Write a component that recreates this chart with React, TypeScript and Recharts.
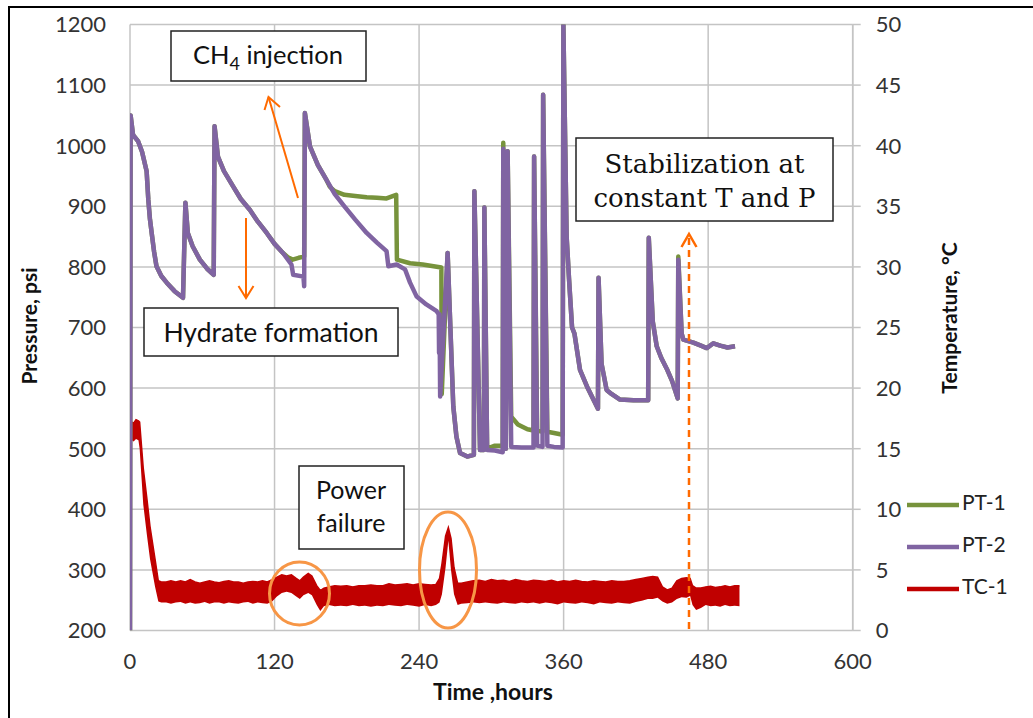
// Pressure (PT-1, PT-2) and temperature (TC-1) history of the hydrate formation run
import React from 'react'
import { ComposedChart, Line, Area, XAxis, YAxis, CartesianGrid } from 'recharts'

const HOUR_TICKS = [0, 120, 240, 360, 480, 600]
const PSI_TICKS = [200, 300, 400, 500, 600, 700, 800, 900, 1000, 1100, 1200]
const TEMP_TICKS = [0, 5, 10, 15, 20, 25, 30, 35, 40, 45, 50]

// [hours, psi]
const PT2_POINTS: [number, number][] = [
  [0, 200], [0.5, 1050], [2.5, 1018], [6.8, 1007], [10, 990], [13.8, 958], [15.2, 911], [16.5, 880],
  [18, 856], [20, 825], [22, 801], [26, 785], [30.5, 774], [37, 760], [44, 749], [46, 906], [48, 856],
  [52, 834], [58, 812], [64, 797], [69.5, 787], [70.2, 1032], [73, 982], [78, 958], [85.6, 933],
  [92, 912], [99.6, 894], [106, 875], [113.5, 856], [120, 838], [127, 823], [134, 804], [135.5, 787],
  [144, 784], [144.6, 768], [145.2, 1054], [149.4, 999], [156, 968], [163, 944], [170, 920], [178, 900],
  [187, 878], [196.5, 856], [205, 840], [213, 826], [214.5, 801], [221.4, 804], [228.3, 796],
  [232.5, 774], [238, 751], [246, 738], [254.6, 727], [256.3, 722], [256.6, 658], [257, 722],
  [257.5, 586], [263.7, 823], [268.4, 570], [271, 520], [274, 493], [280, 487], [285.5, 490],
  [285.9, 925], [290.6, 498], [293.8, 498], [294.2, 898], [296.5, 498], [303, 497], [309.4, 494],
  [309.9, 995], [312, 500], [313.5, 991], [316.5, 503], [325, 502], [335, 502], [335.5, 982],
  [338, 505], [342.5, 503], [343, 1084], [346.5, 505], [352, 503], [359.2, 502], [359.8, 1200],
  [362.5, 850], [364.5, 780], [367, 700], [369, 690], [373.6, 630], [380, 600], [388.5, 566],
  [389, 782], [391.5, 640], [395.7, 597], [400, 590], [406.8, 581], [418, 580], [430.2, 580],
  [430.7, 848], [434, 710], [437.3, 669], [441, 650], [445.6, 632], [450, 612], [454.7, 583],
  [455.2, 812], [458, 690], [459.4, 680], [467.7, 675], [474, 670], [478.8, 666], [484.3, 674],
  [490, 670], [496, 667], [502.3, 669],
]

const PT1_POINTS: [number, number][] = [
  [0, 200], [0.5, 1050], [2.5, 1018], [6.8, 1007], [10, 990], [13.8, 958], [15.2, 911], [16.5, 880],
  [18, 856], [20, 825], [22, 801], [26, 785], [30.5, 774], [37, 760], [44, 749], [46, 906], [48, 856],
  [52, 834], [58, 812], [64, 797], [69.5, 787], [70.2, 1032], [73, 982], [78, 958], [85.6, 933],
  [92, 912], [99.6, 894], [106, 875], [113.5, 856], [120, 838], [127, 823], [131, 816], [135, 812],
  [140, 815], [144.6, 817], [145.2, 1054], [149.4, 999], [156, 968], [163, 944], [166, 932],
  [170, 925], [178, 919], [187, 917], [196.5, 915], [205, 914], [213, 913], [221, 919], [221.6, 812],
  [232.5, 806], [243, 804], [258.5, 799], [258.8, 590], [263.7, 823], [268.4, 570], [271, 520],
  [274, 493], [280, 487], [285.5, 490], [285.9, 925], [290.6, 498], [293.8, 498], [294.2, 898],
  [296.5, 500], [303, 505], [309.4, 505], [309.9, 1005], [312, 500], [313.5, 991], [316.5, 553],
  [322, 540], [330, 532], [335, 530], [335.5, 982], [338, 530], [342.5, 528], [343, 1084],
  [346.5, 528], [352, 526], [359.2, 523], [359.8, 1200], [362.5, 850], [364.5, 780], [367, 700],
  [369, 690], [373.6, 630], [380, 600], [388.5, 566], [389, 782], [391.5, 640], [395.7, 597],
  [400, 590], [406.8, 581], [418, 580], [430.2, 580], [430.7, 848], [434, 710], [437.3, 669],
  [441, 650], [445.6, 632], [450, 612], [454.7, 583], [455.2, 817], [458, 690], [459.4, 680],
  [467.7, 675], [474, 670], [478.8, 666], [484.3, 674], [490, 670], [496, 667], [502.3, 669],
]

// [hours, lower edge °C, upper edge °C] of the noisy thermocouple trace
const TC1_POINTS: [number, number, number][] = [
  [0, 15.8, 17.3], [3, 15.6, 17.1], [5, 15.8, 17.4], [7, 15.7, 17.3], [8, 15.0, 17.2], [11, 10.4, 13.4],
  [14, 7.9, 10.9], [16.6, 5.9, 8.6], [20.8, 3.6, 5.9], [23.5, 2.4, 4.1], [26, 2.3, 4.0], [30, 2.3, 4.0],
  [34, 2.2, 4.1], [38, 2.3, 4.0], [42, 2.35, 4.1], [46, 2.2, 4.0], [50, 2.3, 4.2], [54, 2.2, 4.0],
  [58, 2.25, 3.9], [62, 2.35, 4.0], [66, 2.2, 4.1], [70, 2.3, 4.0], [74, 2.3, 3.95], [78, 2.2, 4.05],
  [82, 2.3, 4.1], [86, 2.25, 4.0], [90, 2.2, 4.0], [94, 2.3, 3.9], [98, 2.35, 4.0], [102, 2.2, 4.05],
  [106, 2.3, 4.0], [110, 2.25, 4.1], [114, 2.2, 4.0], [118, 2.4, 4.2], [122, 2.8, 4.4], [126, 3.1, 4.6],
  [130, 3.2, 4.5], [134, 3.1, 4.6], [138, 2.8, 4.3], [141, 2.6, 4.1], [144, 2.9, 4.4], [148, 3.1, 4.7],
  [151, 2.9, 4.5], [155, 2.1, 3.7], [158, 1.6, 3.3], [161, 2.0, 3.5], [165, 2.1, 3.6], [170, 2.0, 3.7],
  [175, 2.05, 3.65], [180, 2.0, 3.7], [185, 2.1, 3.6], [190, 2.0, 3.7], [195, 2.05, 3.7], [200, 1.95, 3.75],
  [205, 2.05, 3.7], [210, 2.0, 3.7], [215, 2.1, 3.85], [220, 2.05, 3.75], [225, 2.0, 3.8], [230, 2.1, 3.85],
  [235, 2.05, 3.75], [240, 1.95, 3.85], [245, 2.1, 3.8], [250, 2.0, 3.75], [254, 2.1, 3.8], [257, 2.3, 4.3],
  [259, 3.0, 5.5], [262, 5.2, 7.8], [264.3, 7.4, 8.5], [266.5, 5.0, 7.6], [269, 3.0, 5.2],
  [272, 2.1, 3.9], [275, 2.2, 3.9], [280, 2.25, 4.0], [285, 2.3, 4.1], [290, 2.25, 4.15], [295, 2.3, 4.05],
  [300, 2.25, 4.2], [305, 2.2, 4.1], [310, 2.3, 4.15], [315, 2.25, 4.05], [320, 2.2, 4.2], [325, 2.3, 4.1],
  [330, 2.25, 4.05], [335, 2.3, 4.15], [340, 2.2, 4.1], [345, 2.3, 4.05], [350, 2.25, 4.15], [355, 2.15, 4.0],
  [360, 2.3, 4.1], [365, 2.25, 4.05], [370, 2.2, 4.15], [375, 2.3, 4.05], [380, 2.25, 4.0], [385, 2.15, 4.1],
  [390, 2.3, 4.05], [395, 2.25, 4.0], [400, 2.2, 4.1], [405, 2.3, 4.05], [410, 2.25, 4.05], [415, 2.2, 4.1],
  [420, 2.35, 4.2], [425, 2.45, 4.3], [430, 2.6, 4.4], [434, 2.6, 4.45], [438, 2.7, 4.4], [442, 2.4, 3.6],
  [446, 2.2, 3.35], [450, 2.3, 3.5], [454, 2.6, 4.1], [458, 2.75, 4.3], [462, 2.7, 4.35], [465, 2.85, 4.3],
  [467, 2.1, 3.7], [470, 1.7, 3.5], [474, 1.85, 3.5], [478, 2.1, 3.6], [482, 2.0, 3.65], [486, 2.05, 3.55],
  [490, 1.95, 3.6], [494, 2.1, 3.7], [498, 2.0, 3.6], [502, 2.05, 3.7], [506, 2.0, 3.7],
]

const SERIES = [
  { name: 'PT-1', color: '#77933C' },
  { name: 'PT-2', color: '#8064A2' },
  { name: 'TC-1', color: '#C00000' },
]

const pt1Data = PT1_POINTS.map(([t, p]) => ({ t, p }))
const pt2Data = PT2_POINTS.map(([t, p]) => ({ t, p }))
// band drawn as two stacked areas: invisible base up to the lower edge, red span up to the upper edge
const tcData = TC1_POINTS.map(([t, lo, hi]) => ({ t, lo, span: hi - lo }))

const SANS = 'Lato, "Open Sans", sans-serif'
const SERIF = '"DejaVu Serif", serif'
const ORANGE = '#FF6A00'
const tickStyle = { fill: '#333', fontSize: 22, fontFamily: SANS }

function Annotations() {
  return (
    <svg width={1033} height={718} style={{ position: 'absolute', left: 0, top: 0, pointerEvents: 'none' }}>
      {/* outer frame */}
      <rect x={9} y={7} width={1100} height={800} fill="none" stroke="#000" strokeWidth={2} />

      {/* axis titles */}
      <text x={32} y={326} transform="rotate(-90 32 326)" textAnchor="middle" dominantBaseline="middle"
        fontFamily={SANS} fontWeight="bold" fontSize={21} fill="#111">Pressure, psi</text>
      <text x={952} y={318} transform="rotate(-90 952 318)" textAnchor="middle" dominantBaseline="middle"
        fontFamily={SANS} fontWeight="bold" fontSize={21} fill="#111">Temperature, °C</text>
      <text x={493} y={694} textAnchor="middle" dominantBaseline="middle"
        fontFamily={SANS} fontWeight="bold" fontSize={23} fill="#111">Time ,hours</text>

      {/* CH4 injection */}
      <rect x={171} y={31} width={195} height={50} fill="#fff" stroke="#222" strokeWidth={1.5} />
      <text x={268} y={64} textAnchor="middle" fontFamily={SANS} fontSize={25.5} fill="#111">
        CH<tspan fontSize={18} dy={6}>4</tspan><tspan dy={-6}> injection</tspan>
      </text>
      <line x1={298} y1={198} x2={268.5} y2={97} stroke={ORANGE} strokeWidth={2} />
      <polyline points="264.5,110 268.5,97 280,107" fill="none" stroke={ORANGE} strokeWidth={2} />

      {/* hydrate formation */}
      <line x1={246} y1={218} x2={246} y2={298} stroke={ORANGE} strokeWidth={2} />
      <polyline points="238.5,286 246,298 253.5,286" fill="none" stroke={ORANGE} strokeWidth={2} />
      <rect x={144} y={308} width={254} height={48} fill="#fff" stroke="#222" strokeWidth={1.5} />
      <text x={271} y={342} textAnchor="middle" fontFamily={SANS} fontSize={26.5} fill="#111">Hydrate formation</text>

      {/* power failure */}
      <rect x={299} y={466} width={105} height={83} fill="#fff" stroke="#222" strokeWidth={1.5} />
      <text x={351} y={499} textAnchor="middle" fontFamily={SANS} fontSize={25} fill="#111">Power</text>
      <text x={351} y={532} textAnchor="middle" fontFamily={SANS} fontSize={25} fill="#111">failure</text>
      <ellipse cx={299.5} cy={593.5} rx={30} ry={31.5} fill="none" stroke="#F79646" strokeWidth={3} />
      <ellipse cx={448} cy={570} rx={28.5} ry={58} fill="none" stroke="#F79646" strokeWidth={3} />

      {/* stabilization */}
      <rect x={576} y={138} width={257} height={83} fill="#fff" stroke="#222" strokeWidth={1.5} />
      <text x={704.5} y={173} textAnchor="middle" fontFamily={SERIF} fontSize={26} fill="#111">Stabilization at</text>
      <text x={704.5} y={207} textAnchor="middle" fontFamily={SERIF} fontSize={26} fill="#111">constant T and P</text>
      <line x1={689} y1={629} x2={689} y2={235} stroke={ORANGE} strokeWidth={2.5} strokeDasharray="7 5" />
      <polyline points="681.5,247 689,234 696.5,247" fill="none" stroke={ORANGE} strokeWidth={2.5} />

      {/* legend */}
      {SERIES.map((s, i) => (
        <g key={s.name}>
          <line x1={907} x2={959} y1={505 + i * 42} y2={505 + i * 42} stroke={s.color} strokeWidth={4.5} />
          <text x={962} y={505 + i * 42} dominantBaseline="middle" fontFamily={SANS} fontSize={21} fill="#222">{s.name}</text>
        </g>
      ))}
    </svg>
  )
}

export default function App() {
  return (
    <div style={{ position: 'absolute', left: 0, top: 0, width: 1033, height: 718, background: '#fff', overflow: 'hidden' }}>
      <ComposedChart width={1033} height={718} data={tcData} margin={{ top: 24.5, right: 120.3, bottom: 47.5, left: 70 }}>
        <CartesianGrid yAxisId="left" stroke="#C4C4C4" strokeWidth={1.5} />
        <XAxis type="number" dataKey="t" domain={[0, 600]} ticks={HOUR_TICKS} allowDataOverflow
          height={40} axisLine={false} tickLine={false} tickSize={0} tickMargin={23} tick={tickStyle} />
        <YAxis yAxisId="left" domain={[200, 1200]} ticks={PSI_TICKS} allowDataOverflow width={60}
          axisLine={false} tickLine={false} tickSize={0} tickMargin={24} tick={tickStyle} />
        <YAxis yAxisId="right" orientation="right" domain={[0, 50]} ticks={TEMP_TICKS} allowDataOverflow width={60}
          axisLine={{ stroke: '#C4C4C4', strokeWidth: 1.5 }} tickLine={{ stroke: '#C4C4C4', strokeWidth: 1.5 }}
          tickSize={8} tickMargin={15} tick={{ ...tickStyle, textAnchor: 'start' }} />
        <Area yAxisId="right" dataKey="lo" stackId="tc" type="linear" stroke="none" fill="none"
          dot={false} activeDot={false} isAnimationActive={false} />
        <Area yAxisId="right" dataKey="span" stackId="tc" name="TC-1" type="linear"
          stroke={SERIES[2].color} strokeWidth={1.5} fill={SERIES[2].color} fillOpacity={1}
          dot={false} activeDot={false} isAnimationActive={false} />
        <Line yAxisId="left" data={pt1Data} dataKey="p" name="PT-1" type="linear"
          stroke={SERIES[0].color} strokeWidth={4.5} strokeLinejoin="round" dot={false} activeDot={false}
          isAnimationActive={false} />
        <Line yAxisId="left" data={pt2Data} dataKey="p" name="PT-2" type="linear"
          stroke={SERIES[1].color} strokeWidth={4.5} strokeLinejoin="round" dot={false} activeDot={false}
          isAnimationActive={false} />
      </ComposedChart>
      <Annotations />
    </div>
  )
}
